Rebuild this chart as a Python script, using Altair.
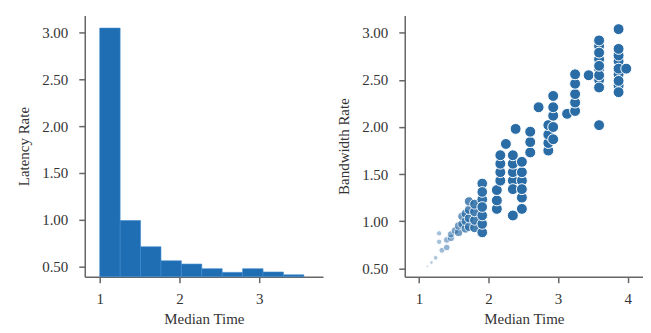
import altair as alt
import pandas as pd

# ---- Left panel: histogram-like bars (Latency Rate vs Median Time)
bin_start = [1.00, 1.256, 1.512, 1.768, 2.024, 2.28, 2.536, 2.792, 3.048, 3.304]
bin_end = [1.256, 1.512, 1.768, 2.024, 2.28, 2.536, 2.792, 3.048, 3.304, 3.56]
latency = [3.05, 0.99, 0.71, 0.56, 0.525, 0.475, 0.436, 0.475, 0.44, 0.41]

# ---- Right panel: scatter (Bandwidth Rate vs Median Time), by column
col_x = [1.12, 1.18, 1.24, 1.29, 1.33, 1.40, 1.46, 1.52, 1.57, 1.62, 1.67, 1.72, 1.80, 1.91,
         2.12, 2.17, 2.25, 2.35, 2.39, 2.48, 2.60, 2.72, 2.86, 2.93,
         3.13, 3.245, 3.44, 3.59, 3.87, 3.98]
col_y = [
    [0.52],
    [0.56],
    [0.61],
    [0.78, 0.87],
    [0.69],
    [0.72, 0.80],
    [0.82, 0.86],
    [0.90],
    [0.88, 0.95],
    [0.97, 1.05],
    [0.92, 1.00, 1.08],
    [0.94, 1.03, 1.12, 1.21],
    [0.93, 1.01, 1.10, 1.18],
    [0.88, 1.23, 1.40, 0.97, 1.06, 1.15, 1.31],
    [1.13, 1.22, 1.33],
    [1.43, 1.52, 1.61, 1.70],
    [1.82],
    [1.43, 1.52, 1.61, 1.06, 1.34, 1.70],
    [1.98],
    [1.25, 1.43, 1.13, 1.34, 1.52, 1.63],
    [1.73, 1.84, 1.95],
    [2.21],
    [1.75, 1.83, 1.92, 2.02],
    [1.87, 2.00, 2.12, 2.21, 2.33],
    [2.14],
    [2.17, 2.26, 2.35, 2.46, 2.56],
    [2.55],
    [2.50, 2.62, 2.72, 2.86, 2.02, 2.42, 2.55, 2.65, 2.79, 2.92],
    [2.44, 2.56, 2.70, 2.76, 2.37, 2.49, 2.62, 2.83, 3.04],
    [2.62],
]

bars = pd.DataFrame({"start": bin_start, "end": bin_end, "rate": latency})
rows = []
for cx, ys in zip(col_x, col_y):
    for cy in ys:
        rows.append({"x": cx, "y": cy})
pts = pd.DataFrame(rows)

FONT = "Liberation Serif"
y_ticks = [0.5, 1.0, 1.5, 2.0, 2.5, 3.0]

left = alt.Chart(bars).mark_rect(color="#1f6db2", stroke="#3d8ad0", strokeWidth=0.6).encode(
    x=alt.X("start:Q", title="Median Time",
            scale=alt.Scale(domain=[0.8125, 3.8], nice=False, zero=False),
            axis=alt.Axis(values=[1, 2, 3], format="d")),
    x2="end:Q",
    y=alt.Y("rate:Q", title="Latency Rate",
            scale=alt.Scale(domain=[0.39, 3.185], nice=False, zero=False, clamp=True),
            axis=alt.Axis(values=y_ticks, format=".2f")),
    y2=alt.datum(0),
).properties(width=239, height=262)

right = alt.Chart(pts).mark_circle(color="#2a6ca6", stroke="white", strokeWidth=1).encode(
    x=alt.X("x:Q", title="Median Time",
            scale=alt.Scale(domain=[0.796, 4.221], nice=False, zero=False),
            axis=alt.Axis(values=[1, 2, 3, 4], format="d")),
    y=alt.Y("y:Q", title="Bandwidth Rate",
            scale=alt.Scale(domain=[0.41, 3.185], nice=False, zero=False),
            axis=alt.Axis(values=y_ticks, format=".2f")),
    size=alt.Size("x:Q", scale=alt.Scale(domain=[1.1, 1.95], range=[4, 120], clamp=True), legend=None),
    opacity=alt.Opacity("x:Q", scale=alt.Scale(domain=[1.1, 1.95], range=[0.25, 1], clamp=True), legend=None),
).properties(width=239, height=262)

chart = alt.hconcat(left, right, spacing=13).properties(
    padding={"left": 8, "top": 7, "right": 0, "bottom": 0}
).configure_view(stroke=None).configure_axis(
    grid=False,
    domainColor="#666666", domainWidth=1.5,
    tickColor="#666666", tickWidth=1.5, tickSize=6,
    labelFont=FONT, labelFontSize=15, labelColor="#333333",
    titleFont=FONT, titleFontSize=15, titleFontWeight="normal", titleColor="#333333",
).configure_axisY(labelPadding=11, titlePadding=10).configure_axisX(labelPadding=9, titlePadding=5)

chart.save("out.html", embed_options={"renderer": "svg", "actions": False})
